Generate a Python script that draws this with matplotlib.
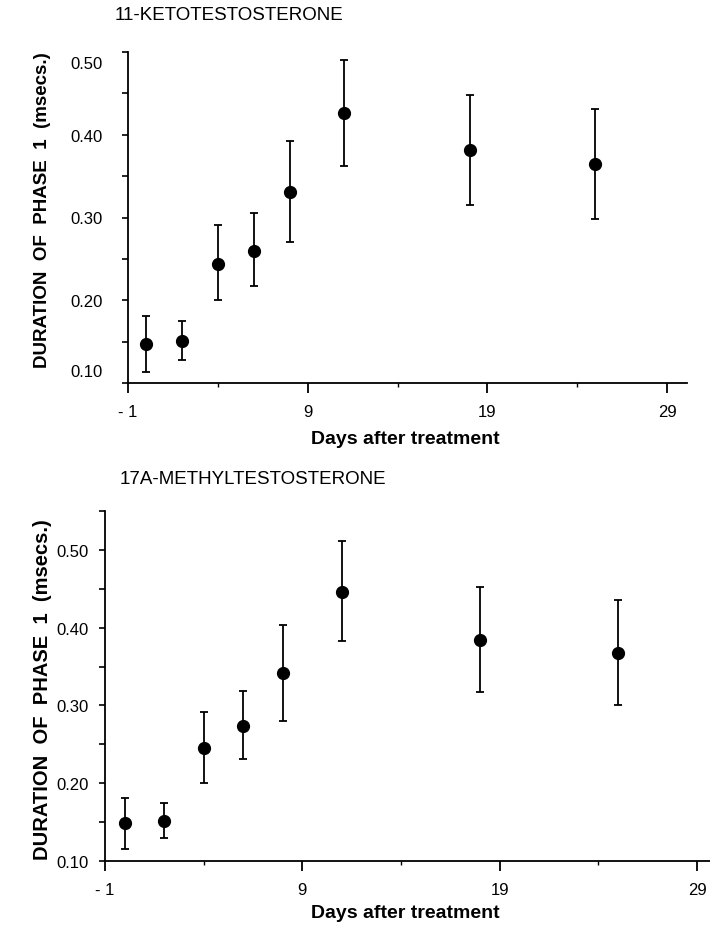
import matplotlib
matplotlib.use("Agg")
import matplotlib.pyplot as plt
import numpy as np
from matplotlib.transforms import ScaledTranslation

plt.rcParams['font.family'] = ['Liberation Sans', 'DejaVu Sans']

# days after treatment
days = [0, 2, 4, 6, 8, 11, 18, 25]

# 11-ketotestosterone: mean and error bar ends
keto_mean = [0.147, 0.151, 0.244, 0.260, 0.331, 0.426, 0.381, 0.365]
keto_upper = [0.181, 0.175, 0.291, 0.305, 0.392, 0.490, 0.448, 0.431]
keto_lower = [0.113, 0.128, 0.200, 0.217, 0.270, 0.362, 0.315, 0.298]

# 17a-methyltestosterone
methyl_mean = [0.149, 0.152, 0.245, 0.274, 0.342, 0.446, 0.384, 0.368]
methyl_upper = [0.181, 0.175, 0.291, 0.318, 0.403, 0.512, 0.452, 0.436]
methyl_lower = [0.115, 0.130, 0.200, 0.231, 0.280, 0.383, 0.317, 0.300]

xticks = [-1, 9, 19, 29]
xticklabels = ['- 1', '9', '19', '29']
xminor = [4, 14, 24]
yticks = [0.10, 0.15, 0.20, 0.25, 0.30, 0.35, 0.40, 0.45, 0.50]
yticklabels = ['0.10', '', '0.20', '', '0.30', '', '0.40', '', '0.50']

W, H = 710, 928
fig = plt.figure(figsize=(W / 100, H / 100), dpi=100)


def px_axes(left, top, right, bottom):
    return fig.add_axes([left / W, 1 - bottom / H, (right - left) / W, (bottom - top) / H])


def style(ax, mean, lower, upper, xlim, ylim, ypad, ytk, ylab):
    mean = np.array(mean)
    yerr = [mean - np.array(lower), np.array(upper) - mean]
    ax.errorbar(days, mean, yerr=yerr, fmt='o', color='black', ms=8.5,
                elinewidth=1.3, capsize=3.2, capthick=1.3, clip_on=False)
    ax.set_xlim(*xlim)
    ax.set_ylim(*ylim)
    for s in ['top', 'right']:
        ax.spines[s].set_visible(False)
    for s in ['left', 'bottom']:
        ax.spines[s].set_linewidth(1.3)
    ax.set_xticks(xticks)
    ax.set_xticklabels(xticklabels, fontsize=12)
    ax.set_xticks(xminor, minor=True)
    ax.set_yticks(ytk)
    ax.set_yticklabels(ylab, fontsize=12)
    ax.tick_params(axis='x', which='major', direction='out', length=7, width=1.3, pad=8)
    ax.tick_params(axis='x', which='minor', direction='out', length=3, width=1.0)
    ax.tick_params(axis='y', direction='out', length=4, width=1.2, pad=ypad)


ax1 = px_axes(128, 53, 687, 384)
style(ax1, keto_mean, keto_lower, keto_upper, (-1, 30.1), (0.10, 0.50), 14,
      yticks, yticklabels)
labs = ax1.get_yticklabels()
labs[0].set_transform(labs[0].get_transform() + ScaledTranslation(0, 0.13, fig.dpi_scale_trans))
labs[-1].set_transform(labs[-1].get_transform() + ScaledTranslation(0, -0.10, fig.dpi_scale_trans))

ax2 = px_axes(105, 512, 712, 862)
style(ax2, methyl_mean, methyl_lower, methyl_upper, (-1, 29.75), (0.10, 0.55), 8,
      yticks + [0.55], yticklabels + [''])

# titles
fig.text(115 / W, 1 - 15 / H, '11-KETOTESTOSTERONE', fontsize=13.5, va='center', ha='left')
fig.text(120 / W, 1 - 480 / H, '17A-METHYLTESTOSTERONE', fontsize=13.5, va='center', ha='left')

# axis labels
fig.text(405 / W, 1 - 440 / H, 'Days after treatment', fontsize=14, fontweight='bold',
         ha='center', va='center')
fig.text(405 / W, 1 - 914 / H, 'Days after treatment', fontsize=14, fontweight='bold',
         ha='center', va='center')
fig.text(43 / W, 1 - 210 / H, 'DURATION  OF  PHASE  1  (msecs.)', fontsize=13.5, fontweight='bold',
         rotation=90, ha='center', va='center')
fig.text(43 / W, 1 - 690 / H, 'DURATION  OF  PHASE  1  (msecs.)', fontsize=14.5, fontweight='bold',
         rotation=90, ha='center', va='center')

fig.savefig('out.png', dpi=100, facecolor='white')
